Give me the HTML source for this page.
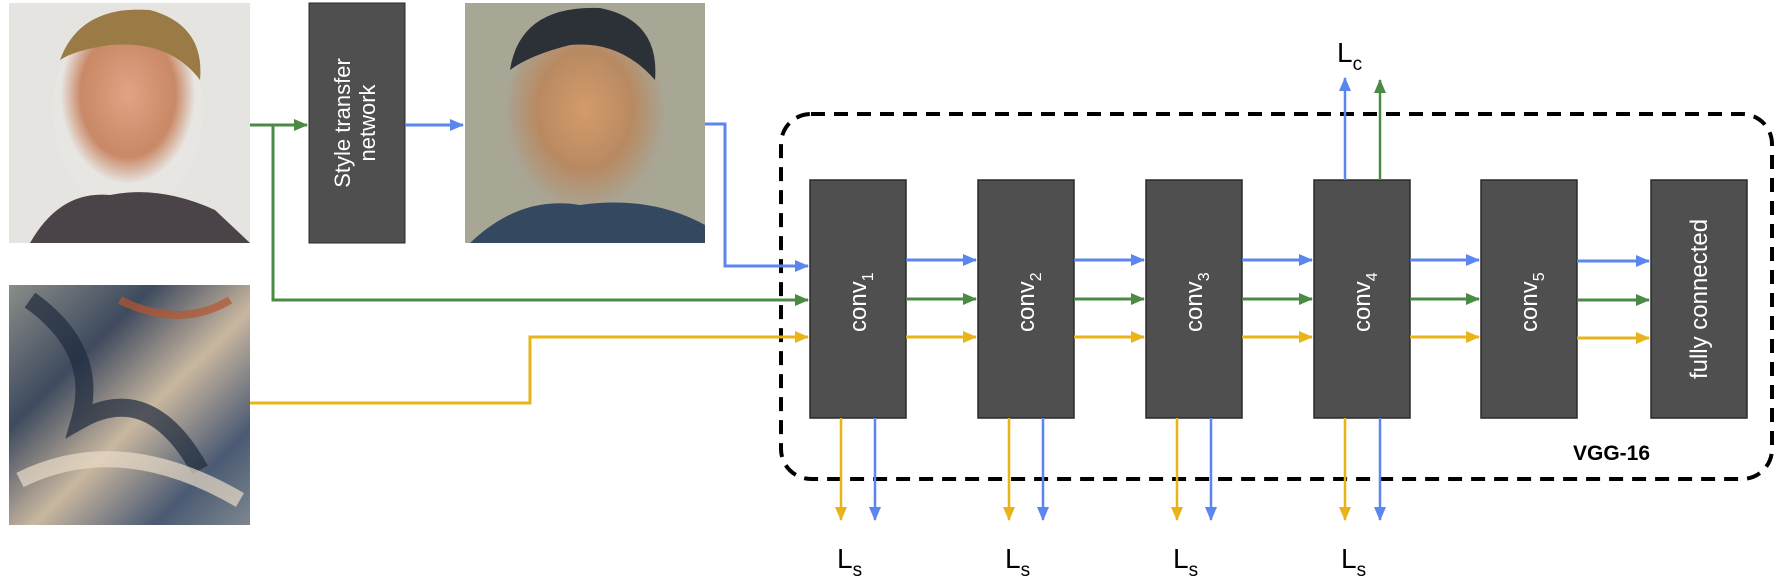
<!DOCTYPE html>
<html><head><meta charset="utf-8"><style>
html,body{margin:0;padding:0;background:#fff;}
svg{display:block}
text{font-family:"Liberation Sans",sans-serif;}
</style></head><body>
<svg width="1787" height="587" viewBox="0 0 1787 587" xmlns="http://www.w3.org/2000/svg">
<defs>
<marker id="ab" markerWidth="14" markerHeight="12" refX="13" refY="6" orient="auto" markerUnits="userSpaceOnUse"><path d="M0,0 L14,6 L0,12 z" fill="#5b86f0"/></marker>
<marker id="ag" markerWidth="14" markerHeight="12" refX="13" refY="6" orient="auto" markerUnits="userSpaceOnUse"><path d="M0,0 L14,6 L0,12 z" fill="#4a8a45"/></marker>
<marker id="ay" markerWidth="14" markerHeight="12" refX="13" refY="6" orient="auto" markerUnits="userSpaceOnUse"><path d="M0,0 L14,6 L0,12 z" fill="#e8b419"/></marker>
<radialGradient id="face" cx="0.5" cy="0.42" r="0.45"><stop offset="0" stop-color="#e0a384"/><stop offset="0.7" stop-color="#c98866"/><stop offset="1" stop-color="#e8e6e3"/></radialGradient>
<radialGradient id="face2" cx="0.5" cy="0.45" r="0.5"><stop offset="0" stop-color="#d49a6a"/><stop offset="0.6" stop-color="#b88a62"/><stop offset="1" stop-color="#a9a595"/></radialGradient>
<linearGradient id="paint" x1="0" y1="0" x2="1" y2="1"><stop offset="0" stop-color="#8a8d88"/><stop offset="0.3" stop-color="#3e4a5e"/><stop offset="0.55" stop-color="#c9b7a0"/><stop offset="0.8" stop-color="#4a5a73"/><stop offset="1" stop-color="#7e8790"/></linearGradient>
</defs>

<rect x="9" y="3" width="241" height="240" fill="#e6e4e1"/>
<ellipse cx="128" cy="110" rx="75" ry="100" fill="url(#face)"/>
<path d="M60,60 Q80,5 150,10 Q205,25 200,80 Q170,40 110,45 Q75,50 60,60z" fill="#9a7a45"/>
<path d="M30,243 Q60,190 110,195 Q160,185 215,210 L250,243z" fill="#4a4448"/>
<rect x="309" y="3" width="96" height="240" fill="#4f4f4f" stroke="#2a2a2a"/>
<text transform="translate(350,123) rotate(-90)" text-anchor="middle" fill="#fff" font-size="22">Style transfer</text>
<text transform="translate(375,123) rotate(-90)" text-anchor="middle" fill="#fff" font-size="22">network</text>
<rect x="465" y="3" width="240" height="240" fill="#a8a694"/>
<ellipse cx="585" cy="120" rx="80" ry="100" fill="url(#face2)"/>
<path d="M510,70 Q520,5 600,8 Q660,20 655,80 Q620,40 570,45 Q530,55 510,70z" fill="#2c3138"/>
<path d="M470,243 Q520,195 580,205 Q650,195 705,225 L705,243z" fill="#34485f"/>
<rect x="9" y="285" width="241" height="240" fill="url(#paint)"/>
<path d="M30,300 Q100,350 80,420 Q150,380 200,470" stroke="#1f2b3d" stroke-width="18" fill="none" opacity="0.7"/>
<path d="M20,480 Q120,430 240,500" stroke="#e9dcc8" stroke-width="16" fill="none" opacity="0.7"/>
<path d="M120,300 Q180,330 230,300" stroke="#b5552e" stroke-width="8" fill="none" opacity="0.7"/>

<rect x="781" y="114" width="991" height="365" rx="30" fill="none" stroke="#000" stroke-width="4" stroke-dasharray="14,9"/>
<text x="1573" y="460" font-size="21" font-weight="bold" fill="#000">VGG-16</text>

<line x1="250" y1="125" x2="307" y2="125" stroke="#4a8a45" stroke-width="3" marker-end="url(#ag)"/>
<polyline points="273,125 273,300 808,300" fill="none" stroke="#4a8a45" stroke-width="3" marker-end="url(#ag)"/>
<line x1="405" y1="125" x2="463" y2="125" stroke="#5b86f0" stroke-width="3" marker-end="url(#ab)"/>
<polyline points="705,124 725,124 725,266 808,266" fill="none" stroke="#5b86f0" stroke-width="3" marker-end="url(#ab)"/>
<polyline points="250,403 530,403 530,337 808,337" fill="none" stroke="#e8b419" stroke-width="3" marker-end="url(#ay)"/>

<g fill="#4f4f4f" stroke="#2a2a2a" stroke-width="1.5">
<rect x="810" y="180" width="96" height="238"/>
<rect x="978" y="180" width="96" height="238"/>
<rect x="1146" y="180" width="96" height="238"/>
<rect x="1314" y="180" width="96" height="238"/>
<rect x="1481" y="180" width="96" height="238"/>
<rect x="1651" y="180" width="96" height="238"/>
</g>
<g fill="#fff" font-size="24">
<text transform="translate(866,332) rotate(-90)">conv<tspan font-size="16" dy="7">1</tspan></text>
<text transform="translate(1034,332) rotate(-90)">conv<tspan font-size="16" dy="7">2</tspan></text>
<text transform="translate(1202,332) rotate(-90)">conv<tspan font-size="16" dy="7">3</tspan></text>
<text transform="translate(1370,332) rotate(-90)">conv<tspan font-size="16" dy="7">4</tspan></text>
<text transform="translate(1537,332) rotate(-90)">conv<tspan font-size="16" dy="7">5</tspan></text>
<text transform="translate(1707,299) rotate(-90)" text-anchor="middle">fully connected</text>
</g>

<g stroke-width="3">
<line x1="906" y1="260" x2="976" y2="260" stroke="#5b86f0" marker-end="url(#ab)"/>
<line x1="906" y1="299" x2="976" y2="299" stroke="#4a8a45" marker-end="url(#ag)"/>
<line x1="906" y1="337" x2="976" y2="337" stroke="#e8b419" marker-end="url(#ay)"/>
<line x1="1074" y1="260" x2="1144" y2="260" stroke="#5b86f0" marker-end="url(#ab)"/>
<line x1="1074" y1="299" x2="1144" y2="299" stroke="#4a8a45" marker-end="url(#ag)"/>
<line x1="1074" y1="337" x2="1144" y2="337" stroke="#e8b419" marker-end="url(#ay)"/>
<line x1="1242" y1="260" x2="1312" y2="260" stroke="#5b86f0" marker-end="url(#ab)"/>
<line x1="1242" y1="299" x2="1312" y2="299" stroke="#4a8a45" marker-end="url(#ag)"/>
<line x1="1242" y1="337" x2="1312" y2="337" stroke="#e8b419" marker-end="url(#ay)"/>
<line x1="1410" y1="260" x2="1479" y2="260" stroke="#5b86f0" marker-end="url(#ab)"/>
<line x1="1410" y1="299" x2="1479" y2="299" stroke="#4a8a45" marker-end="url(#ag)"/>
<line x1="1410" y1="337" x2="1479" y2="337" stroke="#e8b419" marker-end="url(#ay)"/>
<line x1="1577" y1="261" x2="1649" y2="261" stroke="#5b86f0" marker-end="url(#ab)"/>
<line x1="1577" y1="300" x2="1649" y2="300" stroke="#4a8a45" marker-end="url(#ag)"/>
<line x1="1577" y1="338" x2="1649" y2="338" stroke="#e8b419" marker-end="url(#ay)"/>
</g>

<line x1="1345" y1="180" x2="1345" y2="78" stroke="#5b86f0" stroke-width="2.5" marker-end="url(#ab)"/>
<line x1="1380" y1="180" x2="1380" y2="80" stroke="#4a8a45" stroke-width="2.5" marker-end="url(#ag)"/>
<text x="1337" y="62" font-size="28" fill="#000">L<tspan font-size="19" dy="8">c</tspan></text>

<g stroke-width="2.5">
<line x1="841" y1="418" x2="841" y2="520" stroke="#e8b419" marker-end="url(#ay)"/>
<line x1="875" y1="418" x2="875" y2="520" stroke="#5b86f0" marker-end="url(#ab)"/>
<line x1="1009" y1="418" x2="1009" y2="520" stroke="#e8b419" marker-end="url(#ay)"/>
<line x1="1043" y1="418" x2="1043" y2="520" stroke="#5b86f0" marker-end="url(#ab)"/>
<line x1="1177" y1="418" x2="1177" y2="520" stroke="#e8b419" marker-end="url(#ay)"/>
<line x1="1211" y1="418" x2="1211" y2="520" stroke="#5b86f0" marker-end="url(#ab)"/>
<line x1="1345" y1="418" x2="1345" y2="520" stroke="#e8b419" marker-end="url(#ay)"/>
<line x1="1380" y1="418" x2="1380" y2="520" stroke="#5b86f0" marker-end="url(#ab)"/>
</g>
<g font-size="28" fill="#000">
<text x="837" y="568">L<tspan font-size="19" dy="8">s</tspan></text>
<text x="1005" y="568">L<tspan font-size="19" dy="8">s</tspan></text>
<text x="1173" y="568">L<tspan font-size="19" dy="8">s</tspan></text>
<text x="1341" y="568">L<tspan font-size="19" dy="8">s</tspan></text>
</g>
</svg>
</body></html>
